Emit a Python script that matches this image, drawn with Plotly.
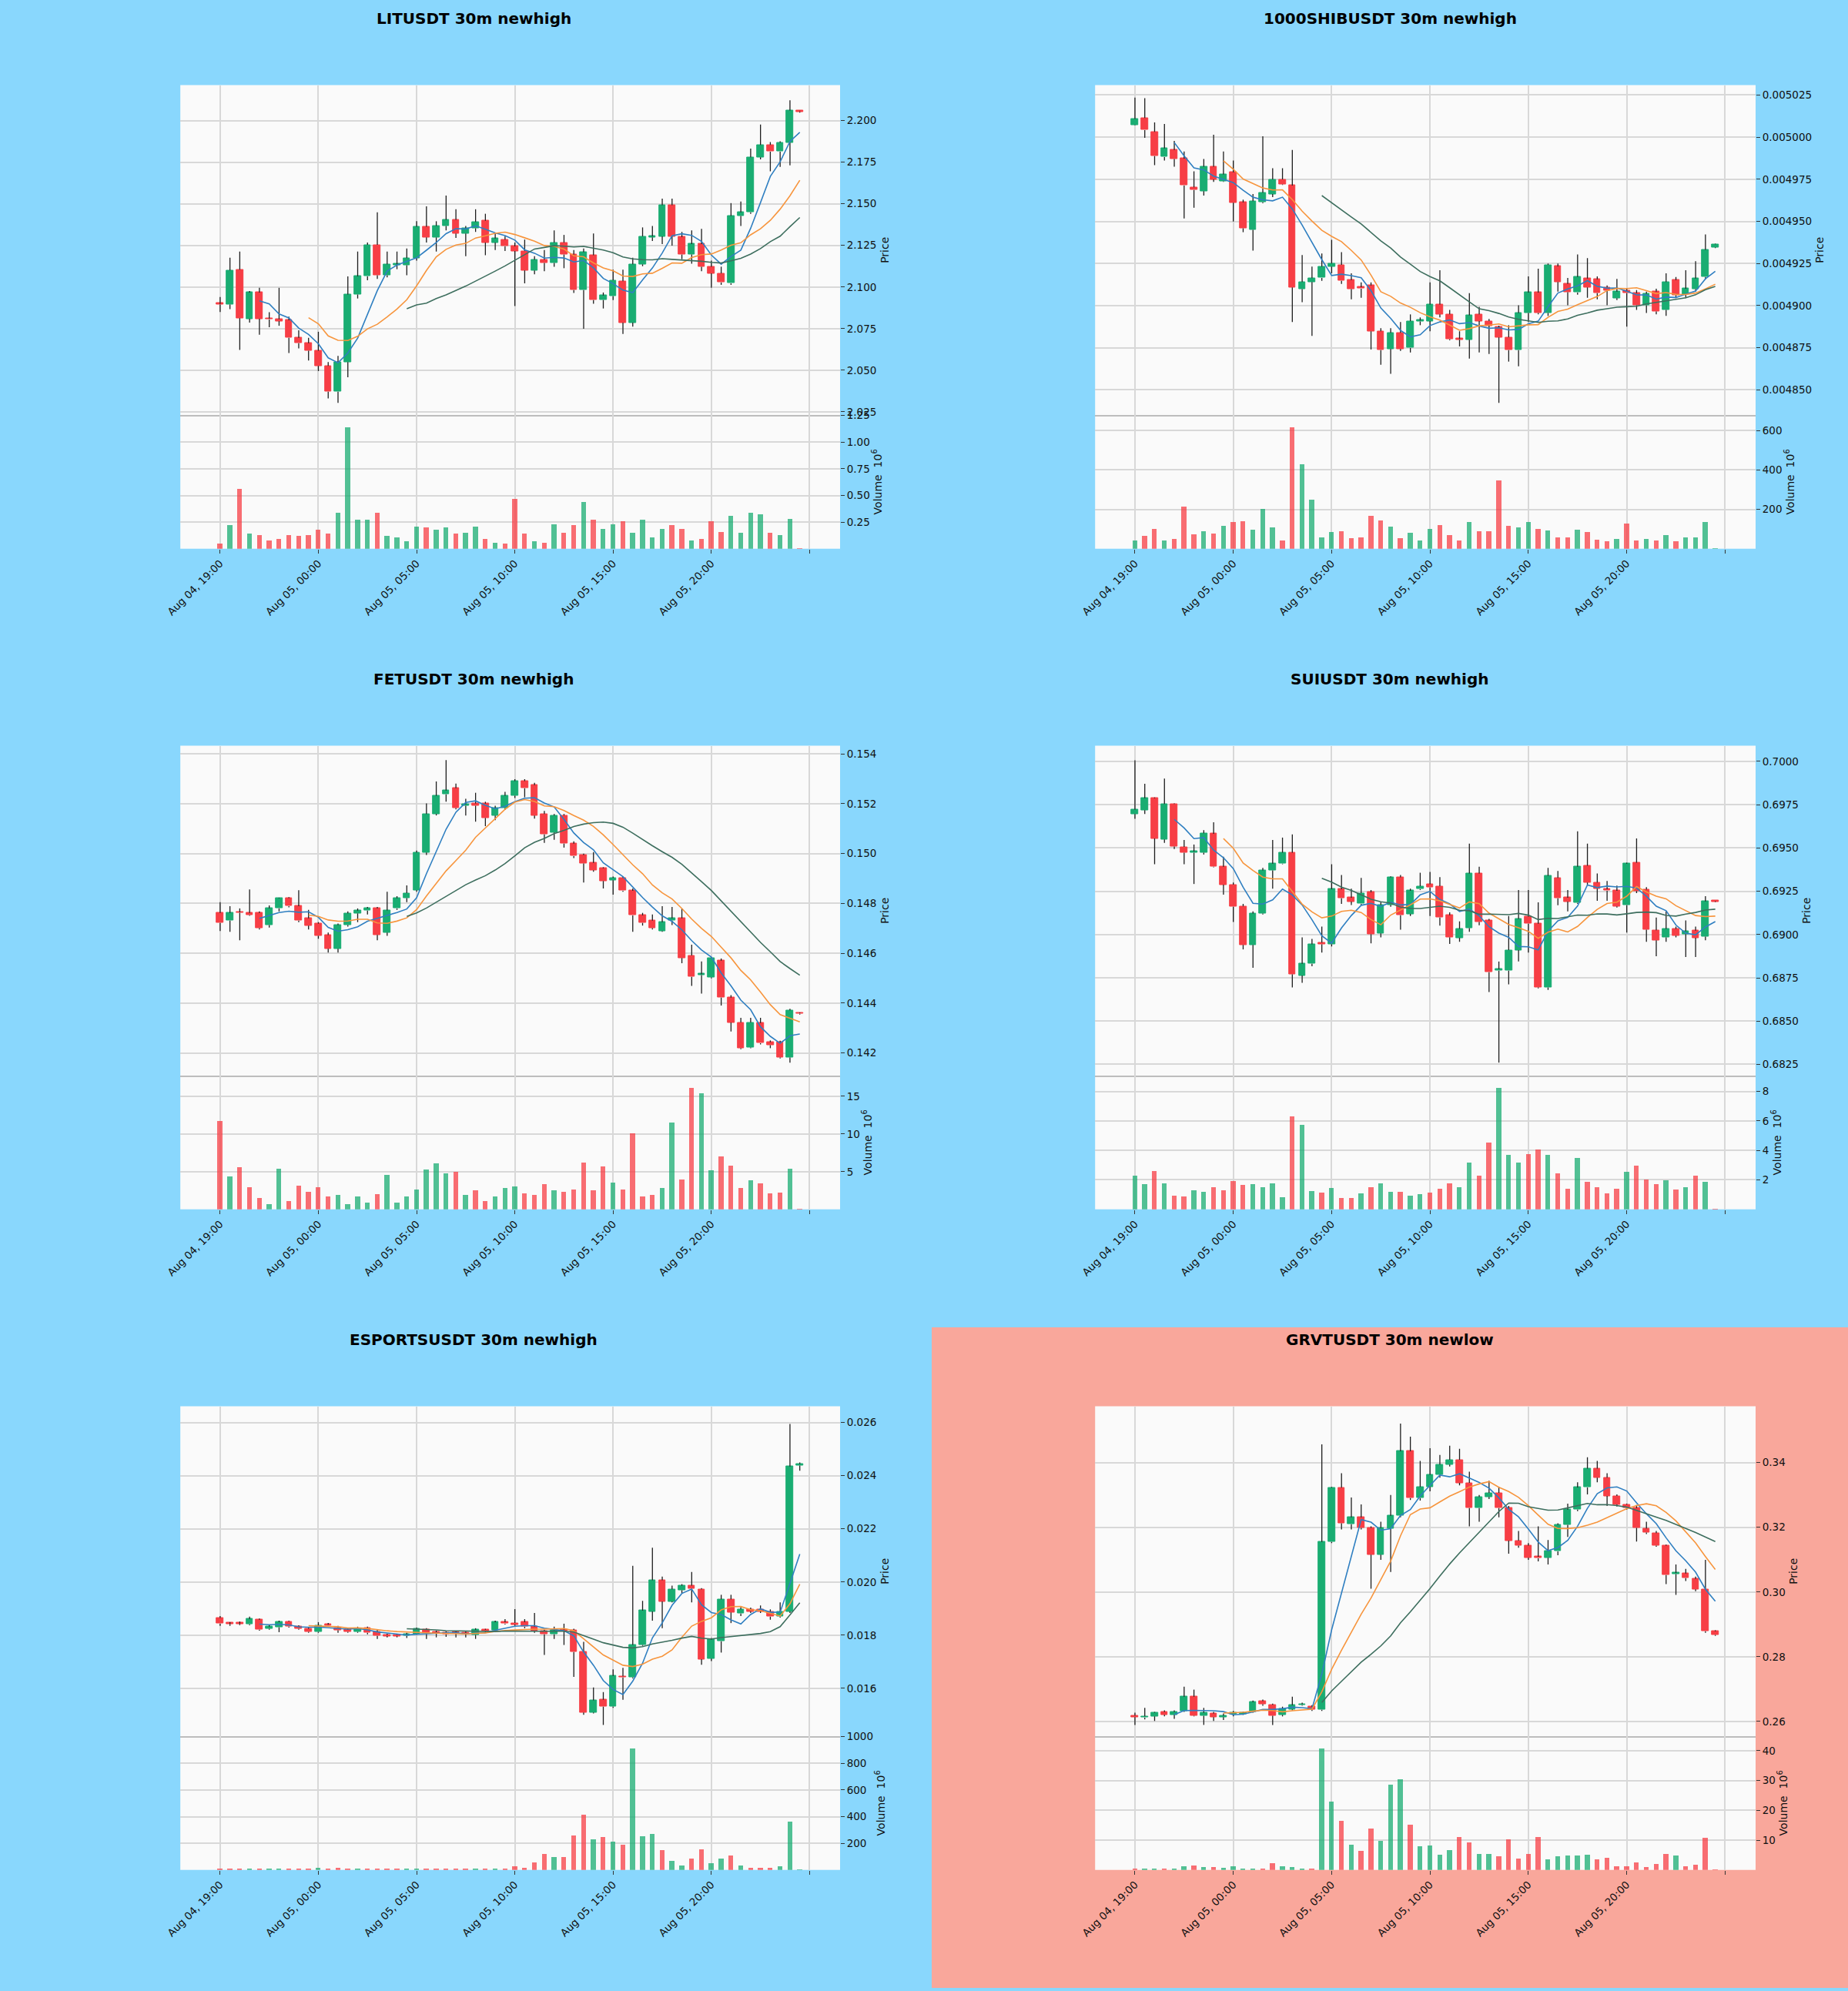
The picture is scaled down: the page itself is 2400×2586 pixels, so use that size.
import numpy as np
import plotly.graph_objects as go

# ---- data: 60 candles, 30m, from Aug 04 19:00 ----
TICK_POS = [0, 10, 20, 30, 40, 50, 60]
TICK_LABELS = ["Aug 04, 19:00", "Aug 05, 00:00", "Aug 05, 05:00", "Aug 05, 10:00",
               "Aug 05, 15:00", "Aug 05, 20:00", ""]

TITLES = ["LITUSDT 30m newhigh", "1000SHIBUSDT 30m newhigh", "FETUSDT 30m newhigh",
          "SUIUSDT 30m newhigh", "ESPORTSUSDT 30m newhigh", "GRVTUSDT 30m newlow"]

LIT_OPEN = [2.0898, 2.0895, 2.1104, 2.0809, 2.0967, 2.0809, 2.0807, 2.0800, 2.0695, 2.0662,
            2.0617, 2.0526, 2.0371, 2.0549, 2.0955, 2.1064, 2.1253, 2.1071, 2.1131, 2.1131,
            2.1173, 2.1362, 2.1298, 2.1367, 2.1404, 2.1322, 2.1353, 2.1398, 2.1267, 2.1285,
            2.1244, 2.1216, 2.1100, 2.1164, 2.1145, 2.1267, 2.1195, 2.0982, 2.1191, 2.0922,
            2.0944, 2.1035, 2.0786, 2.1136, 2.1298, 2.1304, 2.1491, 2.1300, 2.1195, 2.1258,
            2.1122, 2.1082, 2.1022, 2.1427, 2.1449, 2.1780, 2.1853, 2.1813, 2.1867, 2.2060]
LIT_HIGH = [2.0940, 2.1176, 2.1213, 2.0976, 2.0995, 2.0849, 2.0995, 2.0822, 2.0740, 2.0695,
            2.0731, 2.0549, 2.0586, 2.1064, 2.1213, 2.1267, 2.1449, 2.1213, 2.1213, 2.1231,
            2.1395, 2.1485, 2.1395, 2.1549, 2.1467, 2.1367, 2.1467, 2.1440, 2.1322, 2.1304,
            2.1267, 2.1285, 2.1185, 2.1222, 2.1340, 2.1313, 2.1222, 2.1231, 2.1322, 2.0967,
            2.1104, 2.1104, 2.1176, 2.1358, 2.1367, 2.1531, 2.1531, 2.1331, 2.1340, 2.1349,
            2.1158, 2.1122, 2.1504, 2.1513, 2.1831, 2.1976, 2.1871, 2.1876, 2.2122, 2.2062]
LIT_LOW = [2.0850, 2.0867, 2.0622, 2.0786, 2.0713, 2.0758, 2.0767, 2.0604, 2.0631, 2.0558,
           2.0495, 2.0331, 2.0304, 2.0458, 2.0931, 2.1040, 2.1049, 2.1058, 2.1107, 2.1071,
           2.1158, 2.1267, 2.1213, 2.1340, 2.1295, 2.1185, 2.1331, 2.1191, 2.1222, 2.1216,
           2.0886, 2.1022, 2.1076, 2.1095, 2.1122, 2.1113, 2.0964, 2.0749, 2.0900, 2.0871,
           2.0922, 2.0718, 2.0762, 2.1125, 2.1276, 2.1258, 2.1249, 2.1167, 2.1140, 2.1095,
           2.0995, 2.1013, 2.1013, 2.1367, 2.1440, 2.1767, 2.1695, 2.1722, 2.1731, 2.2048]
LIT_CLOSE = [2.0895, 2.1100, 2.0813, 2.0967, 2.0809, 2.0805, 2.0795, 2.0695, 2.0662, 2.0617,
             2.0526, 2.0371, 2.0549, 2.0955, 2.1064, 2.1253, 2.1071, 2.1136, 2.1136, 2.1173,
             2.1362, 2.1298, 2.1367, 2.1404, 2.1322, 2.1353, 2.1391, 2.1267, 2.1291, 2.1244,
             2.1216, 2.1100, 2.1164, 2.1145, 2.1267, 2.1195, 2.0982, 2.1209, 2.0922, 2.0949,
             2.1040, 2.0786, 2.1136, 2.1304, 2.1304, 2.1491, 2.1304, 2.1195, 2.1258, 2.1122,
             2.1082, 2.1027, 2.1427, 2.1449, 2.1780, 2.1853, 2.1813, 2.1867, 2.2060, 2.2053]
LIT_VOLUME = [0.05, 0.22, 0.56, 0.14, 0.13, 0.08, 0.09, 0.13, 0.12, 0.13,
              0.18, 0.14, 0.34, 1.14, 0.27, 0.27, 0.34, 0.12, 0.11, 0.07,
              0.21, 0.20, 0.18, 0.20, 0.14, 0.15, 0.21, 0.09, 0.06, 0.05,
              0.47, 0.14, 0.07, 0.06, 0.23, 0.15, 0.22, 0.44, 0.27, 0.19,
              0.23, 0.26, 0.15, 0.27, 0.11, 0.19, 0.22, 0.19, 0.08, 0.09,
              0.26, 0.16, 0.31, 0.15, 0.34, 0.32, 0.15, 0.13, 0.28, 0.004]

SHIB_OPEN = [0.0050072, 0.0050114, 0.0050031, 0.0049882, 0.0049924, 0.0049873, 0.0049703, 0.0049680, 0.0049825, 0.0049738,
             0.0049792, 0.0049613, 0.0049450, 0.0049613, 0.0049662, 0.0049749, 0.0049713, 0.0049098, 0.0049141, 0.0049165,
             0.0049232, 0.0049242, 0.0049152, 0.0049110, 0.0049120, 0.0048848, 0.0048743, 0.0048839, 0.0048749, 0.0048906,
             0.0048908, 0.0049007, 0.0048948, 0.0048803, 0.0048798, 0.0048948, 0.0048908, 0.0048872, 0.0048812, 0.0048736,
             0.0048957, 0.0049078, 0.0048957, 0.0049233, 0.0049129, 0.0049078, 0.0049161, 0.0049156, 0.0049109, 0.0049044,
             0.0049089, 0.0049074, 0.0049002, 0.0049083, 0.0048975, 0.0049152, 0.0049065, 0.0049098, 0.0049170, 0.0049346]
SHIB_HIGH = [0.0050235, 0.0050231, 0.0050087, 0.0050078, 0.0049978, 0.0049915, 0.0049797, 0.0049870, 0.0050014, 0.0049915,
             0.0049861, 0.0049629, 0.0049662, 0.0050005, 0.0049816, 0.0049816, 0.0049924, 0.0049300, 0.0049232, 0.0049309,
             0.0049391, 0.0049318, 0.0049192, 0.0049138, 0.0049138, 0.0048866, 0.0048866, 0.0048903, 0.0048948, 0.0048930,
             0.0049138, 0.0049210, 0.0048975, 0.0048848, 0.0049074, 0.0048993, 0.0048921, 0.0048881, 0.0048884, 0.0049002,
             0.0049174, 0.0049219, 0.0049250, 0.0049250, 0.0049165, 0.0049304, 0.0049282, 0.0049174, 0.0049120, 0.0049159,
             0.0049101, 0.0049092, 0.0049083, 0.0049101, 0.0049192, 0.0049170, 0.0049210, 0.0049264, 0.0049423, 0.0049368]
SHIB_LOW = [0.0050069, 0.0049996, 0.0049834, 0.0049861, 0.0049825, 0.0049517, 0.0049581, 0.0049653, 0.0049734, 0.0049734,
            0.0049499, 0.0049436, 0.0049327, 0.0049608, 0.0049644, 0.0049716, 0.0048903, 0.0049020, 0.0048821, 0.0049147,
            0.0049192, 0.0049129, 0.0049038, 0.0049047, 0.0048740, 0.0048649, 0.0048595, 0.0048731, 0.0048722, 0.0048884,
            0.0048848, 0.0048930, 0.0048794, 0.0048758, 0.0048686, 0.0048722, 0.0048713, 0.0048423, 0.0048668, 0.0048640,
            0.0048903, 0.0048948, 0.0048939, 0.0049083, 0.0049002, 0.0049065, 0.0049047, 0.0049038, 0.0049002, 0.0049033,
            0.0048875, 0.0048975, 0.0048957, 0.0048948, 0.0048939, 0.0049044, 0.0049044, 0.0049083, 0.0049156, 0.0049342]
SHIB_CLOSE = [0.0050108, 0.0050042, 0.0049888, 0.0049933, 0.0049870, 0.0049713, 0.0049687, 0.0049825, 0.0049749, 0.0049779,
              0.0049611, 0.0049459, 0.0049620, 0.0049671, 0.0049749, 0.0049720, 0.0049109, 0.0049141, 0.0049163, 0.0049232,
              0.0049250, 0.0049147, 0.0049098, 0.0049101, 0.0048848, 0.0048736, 0.0048839, 0.0048743, 0.0048908, 0.0048912,
              0.0049007, 0.0048948, 0.0048800, 0.0048798, 0.0048943, 0.0048908, 0.0048881, 0.0048812, 0.0048736, 0.0048957,
              0.0049078, 0.0048957, 0.0049242, 0.0049141, 0.0049080, 0.0049170, 0.0049109, 0.0049074, 0.0049087, 0.0049083,
              0.0049074, 0.0049002, 0.0049071, 0.0048966, 0.0049141, 0.0049062, 0.0049101, 0.0049161, 0.0049331, 0.0049364]
SHIB_VOLUME = [44, 68, 103, 44, 51, 215, 75, 88, 79, 117,
               138, 142, 97, 203, 110, 41, 617, 430, 250, 57,
               86, 88, 54, 60, 166, 145, 113, 54, 80, 44,
               103, 119, 71, 43, 135, 91, 88, 348, 116, 110,
               135, 102, 93, 57, 57, 97, 86, 47, 37, 52,
               130, 44, 49, 41, 69, 37, 57, 60, 138, 3]

FET_OPEN = [0.14762, 0.14731, 0.14763, 0.14762, 0.14762, 0.14713, 0.14780, 0.14821, 0.14789, 0.14740,
            0.14719, 0.14673, 0.14618, 0.14713, 0.14760, 0.14771, 0.14780, 0.14683, 0.14780, 0.14821,
            0.14853, 0.15004, 0.15159, 0.15238, 0.15262, 0.15192, 0.15201, 0.15201, 0.15153, 0.15183,
            0.15232, 0.15291, 0.15275, 0.15159, 0.15085, 0.15153, 0.15040, 0.14994, 0.14963, 0.14941,
            0.14893, 0.14902, 0.14851, 0.14752, 0.14731, 0.14689, 0.14731, 0.14740, 0.14591, 0.14512,
            0.14503, 0.14570, 0.14422, 0.14322, 0.14222, 0.14320, 0.14243, 0.14243, 0.14182, 0.14359]
FET_HIGH = [0.14805, 0.14789, 0.14780, 0.14856, 0.14768, 0.14792, 0.14823, 0.14825, 0.14853, 0.14774,
            0.14725, 0.14683, 0.14719, 0.14768, 0.14780, 0.14786, 0.14786, 0.14847, 0.14829, 0.14872,
            0.15012, 0.15201, 0.15289, 0.15375, 0.15281, 0.15220, 0.15244, 0.15208, 0.15192, 0.15248,
            0.15299, 0.15299, 0.15284, 0.15171, 0.15159, 0.15159, 0.15049, 0.15000, 0.15006, 0.14945,
            0.14908, 0.14908, 0.14860, 0.14762, 0.14756, 0.14789, 0.14786, 0.14780, 0.14634, 0.14567,
            0.14585, 0.14579, 0.14432, 0.14341, 0.14341, 0.14341, 0.14250, 0.14249, 0.14377, 0.14362]
FET_LOW = [0.14689, 0.14686, 0.14652, 0.14750, 0.14695, 0.14703, 0.14768, 0.14784, 0.14725, 0.14695,
           0.14658, 0.14603, 0.14603, 0.14707, 0.14725, 0.14756, 0.14652, 0.14670, 0.14774, 0.14805,
           0.14847, 0.14994, 0.15153, 0.15208, 0.15177, 0.15153, 0.15128, 0.15110, 0.15134, 0.15175,
           0.15223, 0.15226, 0.15140, 0.15043, 0.15055, 0.15024, 0.14982, 0.14884, 0.14927, 0.14860,
           0.14835, 0.14847, 0.14686, 0.14711, 0.14695, 0.14686, 0.14713, 0.14560, 0.14469, 0.14438,
           0.14499, 0.14390, 0.14286, 0.14215, 0.14219, 0.14234, 0.14219, 0.14178, 0.14161, 0.14354]
FET_CLOSE = [0.14722, 0.14762, 0.14761, 0.14753, 0.14701, 0.14780, 0.14821, 0.14789, 0.14731, 0.14711,
             0.14670, 0.14618, 0.14713, 0.14760, 0.14771, 0.14780, 0.14674, 0.14772, 0.14821, 0.14841,
             0.15004, 0.15159, 0.15232, 0.15253, 0.15183, 0.15198, 0.15192, 0.15143, 0.15183, 0.15232,
             0.15291, 0.15262, 0.15153, 0.15077, 0.15153, 0.15040, 0.14990, 0.14960, 0.14933, 0.14890,
             0.14902, 0.14851, 0.14752, 0.14722, 0.14701, 0.14725, 0.14740, 0.14581, 0.14505, 0.14515,
             0.14581, 0.14422, 0.14322, 0.14219, 0.14322, 0.14239, 0.14231, 0.14182, 0.14371, 0.14357]
FET_VOLUME = [11.76, 4.41, 5.63, 2.98, 1.47, 0.73, 5.43, 1.06, 3.10, 2.37,
              2.98, 1.76, 1.88, 0.73, 1.76, 0.86, 2.04, 4.53, 0.86, 1.71,
              2.65, 5.31, 6.12, 4.73, 5.02, 1.96, 2.49, 1.14, 1.67, 2.86,
              3.06, 2.16, 1.96, 3.35, 2.49, 2.37, 2.61, 6.24, 2.49, 5.71,
              3.59, 2.61, 10.12, 1.76, 1.96, 2.86, 11.55, 4.00, 16.12, 15.35,
              5.22, 7.06, 5.76, 2.86, 3.88, 3.47, 2.16, 2.24, 5.43, 0.02]

SUI_OPEN = [0.69696, 0.69719, 0.69787, 0.69550, 0.69754, 0.69506, 0.69473, 0.69473, 0.69582, 0.69392,
            0.69288, 0.69163, 0.68940, 0.69121, 0.69371, 0.69409, 0.69473, 0.68763, 0.68831, 0.68953,
            0.68944, 0.69262, 0.69213, 0.69177, 0.69244, 0.69007, 0.69172, 0.69330, 0.69119, 0.69262,
            0.69290, 0.69279, 0.69111, 0.68981, 0.69037, 0.69353, 0.69081, 0.68791, 0.68791, 0.68910,
            0.69104, 0.69063, 0.68694, 0.69327, 0.69213, 0.69183, 0.69397, 0.69300, 0.69262, 0.69253,
            0.69169, 0.69415, 0.69260, 0.69025, 0.68984, 0.69033, 0.69002, 0.69023, 0.68988, 0.69192]
SUI_HIGH = [0.70007, 0.69871, 0.69792, 0.69901, 0.69757, 0.69546, 0.69520, 0.69603, 0.69648, 0.69450,
            0.69300, 0.69177, 0.69134, 0.69385, 0.69546, 0.69560, 0.69578, 0.68984, 0.68975, 0.69046,
            0.69406, 0.69344, 0.69265, 0.69327, 0.69257, 0.69186, 0.69336, 0.69344, 0.69265, 0.69357,
            0.69362, 0.69332, 0.69128, 0.69076, 0.69525, 0.69392, 0.69090, 0.68844, 0.69107, 0.69257,
            0.69257, 0.69186, 0.69385, 0.69367, 0.69257, 0.69596, 0.69525, 0.69353, 0.69309, 0.69283,
            0.69415, 0.69555, 0.69274, 0.69098, 0.69134, 0.69046, 0.69081, 0.69046, 0.69221, 0.69194]
SUI_LOW = [0.69669, 0.69696, 0.69406, 0.69529, 0.69494, 0.69406, 0.69292, 0.69462, 0.69388, 0.69230,
           0.69072, 0.68914, 0.68808, 0.69116, 0.69265, 0.69406, 0.68694, 0.68721, 0.68817, 0.68896,
           0.68931, 0.69177, 0.69170, 0.69170, 0.68949, 0.68984, 0.69160, 0.69028, 0.69107, 0.69257,
           0.69107, 0.69051, 0.68946, 0.68958, 0.69016, 0.69054, 0.68668, 0.68260, 0.68712, 0.68844,
           0.68896, 0.68689, 0.68680, 0.69169, 0.69134, 0.69177, 0.69283, 0.69195, 0.69195, 0.69156,
           0.69011, 0.69239, 0.68958, 0.68875, 0.68958, 0.68984, 0.68870, 0.68870, 0.68967, 0.69188]
SUI_CLOSE = [0.69722, 0.69787, 0.69555, 0.69754, 0.69508, 0.69473, 0.69480, 0.69585, 0.69392, 0.69288,
             0.69160, 0.68940, 0.69121, 0.69371, 0.69409, 0.69473, 0.68770, 0.68831, 0.68944, 0.68944,
             0.69262, 0.69209, 0.69190, 0.69239, 0.69002, 0.69172, 0.69330, 0.69111, 0.69253, 0.69279,
             0.69271, 0.69098, 0.68984, 0.69033, 0.69353, 0.69072, 0.68782, 0.68800, 0.68910, 0.69090,
             0.69063, 0.68694, 0.69339, 0.69209, 0.69190, 0.69392, 0.69300, 0.69265, 0.69253, 0.69163,
             0.69409, 0.69251, 0.69028, 0.68967, 0.69033, 0.68993, 0.69019, 0.68981, 0.69192, 0.69190]
SUI_VOLUME = [2.27, 1.71, 2.58, 1.75, 0.92, 0.85, 1.29, 1.19, 1.50, 1.29,
              1.92, 1.65, 1.69, 1.48, 1.75, 0.81, 6.33, 5.71, 1.23, 1.13,
              1.44, 0.77, 0.77, 1.06, 1.48, 1.75, 1.19, 1.17, 0.92, 1.02,
              1.13, 1.38, 1.75, 1.50, 3.17, 2.27, 4.52, 8.25, 3.67, 3.17,
              3.77, 4.04, 3.69, 2.44, 1.40, 3.48, 1.85, 1.48, 1.08, 1.40,
              2.54, 2.96, 2.02, 1.69, 1.96, 1.33, 1.50, 2.27, 1.85, 0.01]

ESP_OPEN = [0.018650, 0.018432, 0.018432, 0.018410, 0.018581, 0.018238, 0.018295, 0.018513, 0.018318, 0.018238,
            0.018124, 0.018398, 0.018284, 0.018204, 0.018124, 0.018261, 0.018124, 0.018009, 0.018009, 0.017975,
            0.018032, 0.018204, 0.018112, 0.018089, 0.018112, 0.018089, 0.018009, 0.018204, 0.018169, 0.018490,
            0.018455, 0.018490, 0.018318, 0.018146, 0.018032, 0.018204, 0.018181, 0.017368, 0.015091, 0.015572,
            0.015309, 0.016453, 0.016407, 0.017631, 0.018890, 0.020069, 0.019268, 0.019691, 0.019863, 0.019725,
            0.017117, 0.017769, 0.019348, 0.018810, 0.018970, 0.018970, 0.018890, 0.018696, 0.018890, 0.024382]
ESP_HIGH = [0.018718, 0.018490, 0.018513, 0.018696, 0.018627, 0.018375, 0.018547, 0.018547, 0.018375, 0.018284,
            0.018490, 0.018455, 0.018352, 0.018284, 0.018318, 0.018318, 0.018204, 0.018055, 0.018055, 0.018089,
            0.018284, 0.018261, 0.018169, 0.018146, 0.018169, 0.018146, 0.018261, 0.018238, 0.018547, 0.018604,
            0.018981, 0.018604, 0.018833, 0.018204, 0.018318, 0.018432, 0.018238, 0.017746, 0.016030, 0.015858,
            0.016716, 0.016773, 0.020606, 0.019291, 0.021293, 0.020206, 0.019863, 0.019920, 0.020378, 0.019771,
            0.017895, 0.019519, 0.019519, 0.019062, 0.019039, 0.019119, 0.018970, 0.019233, 0.025950, 0.024497]
ESP_LOW = [0.018352, 0.018352, 0.018375, 0.018375, 0.018169, 0.018204, 0.018112, 0.018284, 0.018204, 0.018089,
           0.018089, 0.018318, 0.018089, 0.018089, 0.018089, 0.018032, 0.017860, 0.017918, 0.017918, 0.017895,
           0.018009, 0.017860, 0.017918, 0.017940, 0.017918, 0.017918, 0.017860, 0.018089, 0.018124, 0.018398,
           0.018352, 0.018261, 0.018089, 0.017254, 0.017860, 0.017631, 0.016430, 0.015000, 0.015057, 0.014622,
           0.015263, 0.015572, 0.016373, 0.017597, 0.018547, 0.018261, 0.019233, 0.019577, 0.019233, 0.016888,
           0.017025, 0.017345, 0.018455, 0.018718, 0.018833, 0.018833, 0.018581, 0.018661, 0.018833, 0.024188]
ESP_CLOSE = [0.018432, 0.018420, 0.018420, 0.018604, 0.018204, 0.018318, 0.018490, 0.018318, 0.018238, 0.018124,
             0.018352, 0.018352, 0.018181, 0.018124, 0.018238, 0.018089, 0.017975, 0.017963, 0.017963, 0.018032,
             0.018238, 0.018089, 0.018055, 0.018032, 0.018055, 0.018032, 0.018204, 0.018146, 0.018490, 0.018432,
             0.018398, 0.018318, 0.018146, 0.018032, 0.018181, 0.018146, 0.017368, 0.015091, 0.015549, 0.015309,
             0.016464, 0.016407, 0.017631, 0.018924, 0.020069, 0.019268, 0.019725, 0.019863, 0.019748, 0.017094,
             0.017826, 0.019348, 0.018856, 0.018970, 0.018890, 0.018890, 0.018696, 0.018890, 0.024348, 0.024439]
ESP_VOLUME = [8, 6, 5, 10, 12, 5, 8, 7, 5, 8,
              14, 6, 15, 5, 6, 12, 10, 7, 6, 8,
              10, 12, 8, 6, 5, 6, 8, 6, 10, 12,
              30, 18, 55, 122, 99, 99, 259, 413, 229, 248,
              211, 190, 913, 252, 271, 149, 69, 34, 87, 156,
              53, 85, 110, 34, 16, 16, 16, 30, 360, 1]

GRVT_OPEN = [0.26186, 0.26120, 0.26158, 0.26299, 0.26205, 0.26327, 0.26768, 0.26177, 0.26252, 0.26139,
             0.26224, 0.26233, 0.26299, 0.26628, 0.26515, 0.26205, 0.26374, 0.26505, 0.26458, 0.26364,
             0.31550, 0.33222, 0.32095, 0.32311, 0.31982, 0.31155, 0.31963, 0.32358, 0.34349, 0.32903,
             0.33250, 0.33626, 0.33936, 0.34086, 0.33372, 0.32593, 0.32940, 0.33062, 0.32593, 0.31588,
             0.31437, 0.31090, 0.31062, 0.31259, 0.32076, 0.32546, 0.33232, 0.33814, 0.33532, 0.32968,
             0.32705, 0.32593, 0.31963, 0.31822, 0.31437, 0.30554, 0.30573, 0.30404, 0.30085, 0.28788]
GRVT_HIGH = [0.26271, 0.26421, 0.26299, 0.26346, 0.26346, 0.27078, 0.26985, 0.26421, 0.26299, 0.26252,
             0.26327, 0.26299, 0.26646, 0.26675, 0.26552, 0.26458, 0.26768, 0.26581, 0.26505, 0.34565,
             0.33250, 0.33673, 0.32922, 0.32705, 0.32029, 0.32170, 0.32997, 0.35204, 0.34800, 0.34049,
             0.34443, 0.34237, 0.34519, 0.34425, 0.33720, 0.32997, 0.33438, 0.33250, 0.32659, 0.31888,
             0.31512, 0.32029, 0.31606, 0.32123, 0.32734, 0.33391, 0.34162, 0.34049, 0.33673, 0.33015,
             0.32734, 0.32687, 0.32170, 0.31888, 0.31465, 0.30855, 0.30714, 0.30479, 0.30996, 0.28816]
GRVT_LOW = [0.25895, 0.26064, 0.26017, 0.26158, 0.26083, 0.26299, 0.26158, 0.25895, 0.26017, 0.26045,
            0.26158, 0.26205, 0.26271, 0.26487, 0.25895, 0.26158, 0.26346, 0.26487, 0.26327, 0.26327,
            0.31512, 0.31935, 0.31935, 0.31935, 0.30103, 0.30996, 0.30620, 0.32311, 0.32846, 0.32828,
            0.33109, 0.33532, 0.33880, 0.33297, 0.32029, 0.32170, 0.32875, 0.32311, 0.31184, 0.31372,
            0.30996, 0.30949, 0.30855, 0.31137, 0.31700, 0.32499, 0.33015, 0.33391, 0.32659, 0.32640,
            0.32546, 0.31559, 0.31794, 0.31400, 0.30244, 0.29915, 0.30338, 0.30028, 0.28741, 0.28647]
GRVT_CLOSE = [0.26139, 0.26158, 0.26271, 0.26205, 0.26299, 0.26768, 0.26177, 0.26271, 0.26139, 0.26177,
              0.26271, 0.26271, 0.26599, 0.26534, 0.26177, 0.26393, 0.26505, 0.26534, 0.26364, 0.31550,
              0.33222, 0.32123, 0.32311, 0.31982, 0.31155, 0.31982, 0.32358, 0.34349, 0.32903, 0.33250,
              0.33626, 0.33936, 0.34086, 0.33372, 0.32593, 0.32940, 0.33062, 0.32593, 0.31588, 0.31437,
              0.31062, 0.31043, 0.31259, 0.32076, 0.32546, 0.33232, 0.33814, 0.33532, 0.32968, 0.32705,
              0.32593, 0.31982, 0.31841, 0.31437, 0.30526, 0.30592, 0.30432, 0.30085, 0.28788, 0.28675]
GRVT_VOLUME = [0.4, 0.4, 0.4, 0.4, 0.6, 1.4, 1.6, 0.9, 0.9, 0.8,
               1.4, 0.4, 0.4, 0.4, 2.2, 1.4, 0.9, 0.4, 0.4, 40.8,
               23.0, 16.5, 8.4, 6.4, 14.0, 9.7, 28.5, 30.4, 15.1, 7.9,
               8.3, 5.2, 6.6, 11.2, 9.4, 5.5, 5.5, 4.7, 10.2, 3.8,
               5.3, 11.2, 3.7, 4.5, 5.0, 5.0, 5.2, 3.7, 4.0, 1.4,
               1.4, 2.5, 1.1, 2.0, 5.5, 5.0, 1.4, 1.7, 10.7, 0.2]

# ---- style ----
BLUE_BG = "#89d7fd"
SALMON_BG = "#f9a79b"
PANEL_BG = "#fafafa"
GRID = "#d8d8d8"
UP = "#19ad72"
DOWN = "#f73e45"
MA_COLORS = ["#2f7fc1", "#f7953d", "#3d6e5e"]
MA_WINDOWS = [5, 10, 20]
FONT = "DejaVu Sans"

W, H = 2400, 2586
CELL_H = 862

panels = [
    dict(o=LIT_OPEN, h=LIT_HIGH, l=LIT_LOW, c=LIT_CLOSE, v=LIT_VOLUME,
         yr=[2.0231, 2.2213], fmt=".3f", dt=0.025, vdt=0.25, vfmt=".2f"),
    dict(o=SHIB_OPEN, h=SHIB_HIGH, l=SHIB_LOW, c=SHIB_CLOSE, v=SHIB_VOLUME,
         yr=[0.0048351, 0.0050309], fmt=".6f", dt=0.000025, vdt=200, vfmt="d"),
    dict(o=FET_OPEN, h=FET_HIGH, l=FET_LOW, c=FET_CLOSE, v=FET_VOLUME,
         yr=[0.14109, 0.15433], fmt=".3f", dt=0.002, vdt=5, vfmt="d"),
    dict(o=SUI_OPEN, h=SUI_HIGH, l=SUI_LOW, c=SUI_CLOSE, v=SUI_VOLUME,
         yr=[0.68185, 0.70091], fmt=".4f", dt=0.0025, vdt=2, vfmt="d"),
    dict(o=ESP_OPEN, h=ESP_HIGH, l=ESP_LOW, c=ESP_CLOSE, v=ESP_VOLUME,
         yr=[0.014199, 0.026613], fmt=".3f", dt=0.002, vdt=200, vfmt="d"),
    dict(o=GRVT_OPEN, h=GRVT_HIGH, l=GRVT_LOW, c=GRVT_CLOSE, v=GRVT_VOLUME,
         yr=[0.25547, 0.3574], fmt=".2f", dt=0.02, vdt=10, vfmt="d"),
]

col_dom = [(216 / W, 1080 / W), (1414 / W, 2279 / W)]

fig = go.Figure()
layout = {}
annotations = []
shapes = [dict(type="rect", xref="paper", yref="paper", x0=0.5, x1=1, y0=0, y1=1 - 2 * CELL_H / H,
               fillcolor=SALMON_BG, line=dict(width=0), layer="below")]

for k, p in enumerate(panels):
    row, col = k // 2, k % 2
    pa, va = 2 * k + 1, 2 * k + 2
    px_, py_ = ("x" if pa == 1 else f"x{pa}"), ("y" if pa == 1 else f"y{pa}")
    vx_, vy_ = f"x{va}", f"y{va}"
    o, hi, lo, c = map(np.array, (p["o"], p["h"], p["l"], p["c"]))
    vol = np.array(p["v"], dtype=float)
    idx = np.arange(len(c))
    up = c >= o
    colors = [UP if u else DOWN for u in up]

    # wicks, split around the body so they stay under it
    wx, wy = [], []
    top, bot = np.maximum(o, c), np.minimum(o, c)
    for i in idx:
        wx += [i, i, None, i, i, None]
        wy += [hi[i], top[i], None, bot[i], lo[i], None]
    fig.add_trace(go.Scatter(x=wx, y=wy, mode="lines", line=dict(color="#1e1e1e", width=1.3),
                             xaxis=px_, yaxis=py_, hoverinfo="skip", showlegend=False))

    span = p["yr"][1] - p["yr"][0]
    body = np.maximum(top - bot, span * 0.004)
    fig.add_trace(go.Bar(x=idx, y=body, base=bot, width=0.68,
                         marker=dict(color=colors, line=dict(color=colors, width=1)),
                         xaxis=px_, yaxis=py_, showlegend=False))

    for w, mc in zip(MA_WINDOWS, MA_COLORS):
        ma = np.convolve(c, np.ones(w) / w, mode="valid")
        fig.add_trace(go.Scatter(x=idx[w - 1:], y=ma, mode="lines", line=dict(color=mc, width=1.6),
                                 xaxis=px_, yaxis=py_, showlegend=False))

    fig.add_trace(go.Bar(x=idx, y=vol, width=0.5, marker=dict(color=colors, line=dict(width=0)),
                         opacity=0.75, xaxis=vx_, yaxis=vy_, showlegend=False))

    # domains (price and volume panels touch, as in the reference)
    off = row * CELL_H
    price_dom = [1 - (533.5 + off) / H, 1 - (103 + off) / H]
    vol_dom = [1 - (708 + off) / H, 1 - (533.5 + off) / H]
    xd = list(col_dom[col])
    xr = [-4.05, 63.1]
    tickfont = dict(family=FONT, size=13.5, color="#111")

    layout["xaxis" if pa == 1 else f"xaxis{pa}"] = dict(
        domain=xd, anchor=py_, range=xr, matches=vx_, tickvals=TICK_POS, showticklabels=False,
        showgrid=True, gridcolor=GRID, gridwidth=1.5, zeroline=False,
        showline=True, linecolor="#bdbdbd", linewidth=1.5, ticks="")
    layout[f"xaxis{va}"] = dict(
        domain=xd, anchor=vy_, range=xr, tickvals=TICK_POS, ticktext=TICK_LABELS, tickangle=-45,
        showgrid=True, gridcolor=GRID, gridwidth=1.5, zeroline=False, ticks="outside", ticklen=5,
        tickcolor="#333", tickfont=tickfont)
    layout["yaxis" if pa == 1 else f"yaxis{pa}"] = dict(
        domain=price_dom, anchor=px_, side="right", range=p["yr"], dtick=p["dt"],
        tick0=0, tickformat=p["fmt"], showgrid=True, gridcolor=GRID, gridwidth=1.5,
        zeroline=False, ticks="outside", ticklen=5, tickcolor="#333", tickfont=tickfont,
        title=dict(text="Price", font=dict(family=FONT, size=14, color="#111"), standoff=6))
    layout[f"yaxis{va}"] = dict(
        domain=vol_dom, anchor=vx_, side="right", range=[0.3 * vol.min(), 1.1 * vol.max()],
        dtick=p["vdt"], tick0=0, tickformat=p["vfmt"], showgrid=True, gridcolor=GRID, gridwidth=1.5,
        zeroline=False, ticks="outside", ticklen=5, tickcolor="#333", tickfont=tickfont,
        title=dict(text="Volume  10<sup>6</sup>", font=dict(family=FONT, size=14, color="#111"),
                   standoff=6))

    annotations.append(dict(text=f"<b>{TITLES[k]}</b>", x=0.25 + 0.5 * col, y=1 - (16 + off) / H,
                            xref="paper", yref="paper", xanchor="center", yanchor="middle",
                            showarrow=False, font=dict(family=FONT, size=20, color="#000")))

    if col == 1 and row == 2:
        for ax in (pa, va):
            shapes.append(dict(type="rect", xref=f"x{ax} domain", yref=f"y{ax} domain",
                               x0=0, x1=1, y0=0, y1=1, fillcolor=PANEL_BG,
                               line=dict(width=0), layer="below"))

fig.update_layout(**layout)
fig.update_layout(
    width=W, height=H, margin=dict(l=0, r=0, t=0, b=0),
    paper_bgcolor=BLUE_BG, plot_bgcolor=PANEL_BG,
    font=dict(family=FONT, size=14, color="#111"),
    showlegend=False, bargap=0, annotations=annotations, shapes=shapes,
)

fig.write_html("out.html", config={"displayModeBar": False},
               post_script="document.body.style.margin='0';"
                           "document.documentElement.style.overflow='hidden';")
